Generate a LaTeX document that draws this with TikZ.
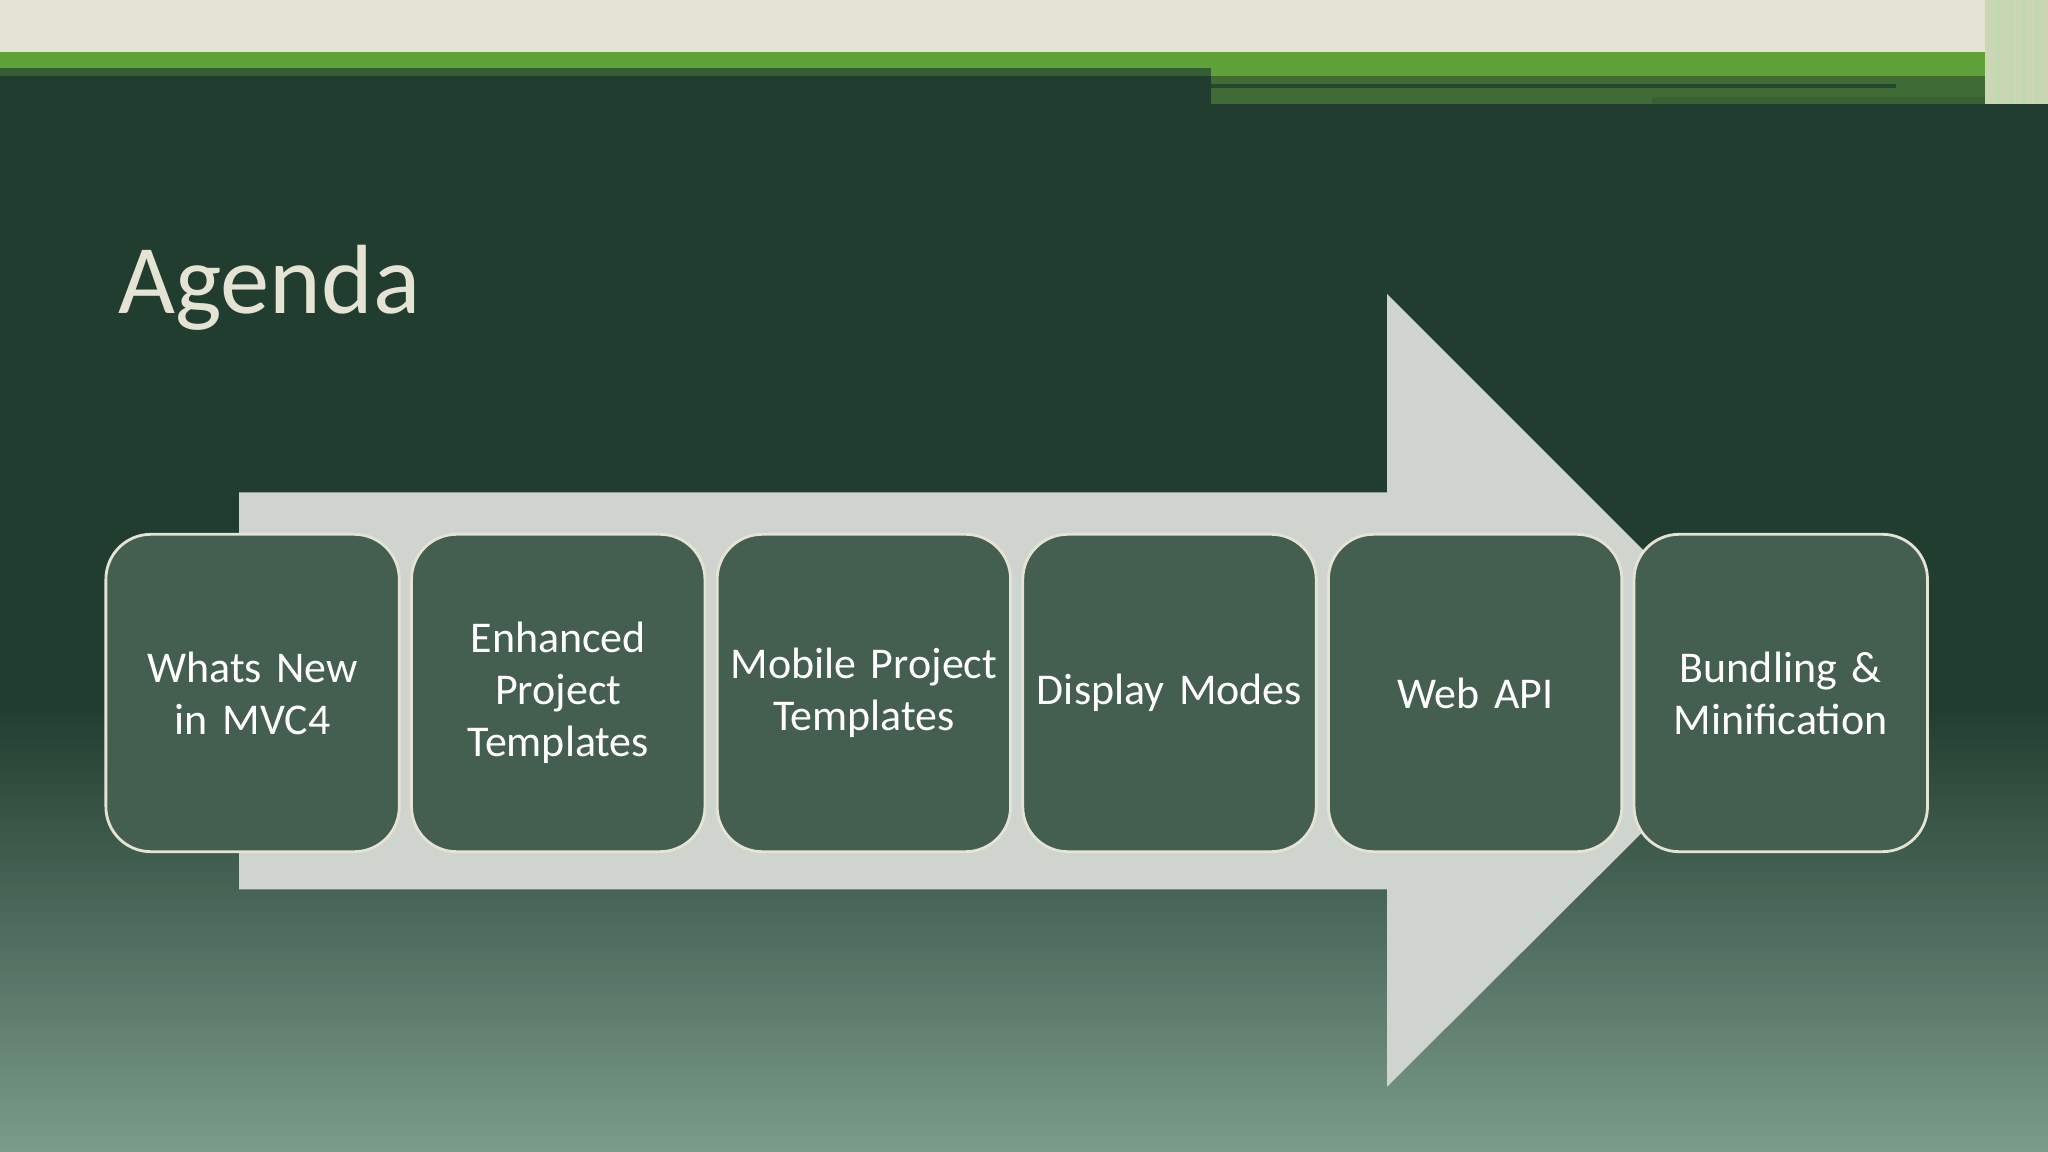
\documentclass[tikz,border=0pt]{standalone}
\usepackage{fontspec}
\setmainfont{Carlito}
\definecolor{bg}{HTML}{213D2F}
\definecolor{bgl}{HTML}{7B9B8B}
\definecolor{beige}{HTML}{E5E3D3}
\definecolor{lgreen}{HTML}{5FA23A}
\definecolor{mgreen}{HTML}{3F6B35}
\definecolor{arrowc}{HTML}{D0D4CE}
\definecolor{boxc}{HTML}{445E50}
\tikzset{itembox/.style={draw=beige,line width=0.8pt,fill=boxc,rounded corners=0.45cm,minimum width=221*0.013061cm,minimum height=243*0.013061cm,text width=2.7cm,align=center,text=white,font=\fontsize{12.5}{14.8}\selectfont,anchor=north west}}
\begin{document}
\begin{tikzpicture}[x=0.013061cm,y=-0.013061cm]
\useasboundingbox (0,0) rectangle (1568,882);
\fill[bg] (0,0) rectangle (1568,882);
\shade[top color=bg,bottom color=bgl] (0,540) rectangle (1568,882);
\fill[beige] (0,0) rectangle (1568,40);
\fill[lgreen] (0,40) rectangle (1568,52);
\fill[mgreen!70!bg] (0,52) rectangle (927,58);
\fill[lgreen] (927,52) rectangle (1540,58);
\fill[mgreen] (927,58) rectangle (1540,80);
\fill[bg!80!mgreen] (927,64) rectangle (1452,67);
\fill[mgreen!80!bg] (1265,74) rectangle (1540,80);
\fill[beige!80!lgreen] (1520,0) rectangle (1568,80);
\foreach \xx in {1528,1538,1548,1558}{\fill[white!60!lgreen] (\xx,0) rectangle ++(3,80);}
\node[anchor=base west,text=beige,font=\fontsize{28}{32}\selectfont,inner sep=0] (title) at (90,240) {Agenda};
\fill[arrowc] (183,377) -- (1062,377) -- (1062,225) -- (1366,529) -- (1062,832) -- (1062,681) -- (183,681) -- cycle;
\node[itembox] (b1) at (80,408) {Whats New in MVC4};
\node[itembox] (b2) at (314,408) {Enhanced Project Templates};
\node[itembox] (b3) at (548,408) {Mobile Project Templates};
\node[itembox] (b4) at (782,408) {Display Modes};
\node[itembox] (b5) at (1016,408) {Web API};
\node[itembox] (b6) at (1250,408) {Bundling \& Minification};
\end{tikzpicture}
\end{document}
